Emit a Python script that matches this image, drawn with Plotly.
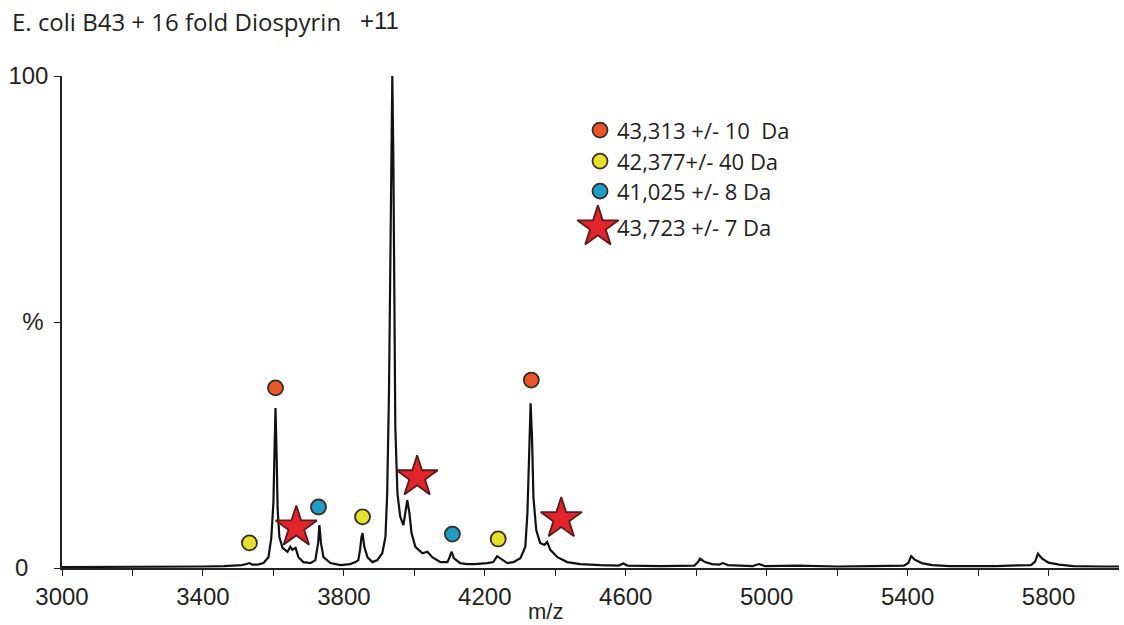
import plotly.graph_objects as go

# ---------------- data ----------------
mz = [3000, 3100, 3200, 3300, 3400, 3460, 3490, 3510, 3524, 3532, 3540, 3555, 3572, 3586,
      3594, 3600, 3603, 3606, 3609, 3612, 3617, 3626, 3640, 3648, 3654, 3657, 3663, 3671,
      3685, 3705, 3719, 3727, 3730.5, 3735, 3742, 3762, 3790, 3818, 3833, 3841, 3846, 3850,
      3853, 3858, 3867, 3881, 3895, 3909, 3918, 3923, 3928, 3932, 3935, 3937.5, 3940.5,
      3943.5, 3946, 3952, 3960, 3969, 3975, 3980, 3986, 3992, 4003, 4023, 4037, 4051, 4074,
      4094, 4100, 4106, 4112, 4130, 4150, 4170, 4207, 4224, 4235, 4250, 4264, 4281, 4301,
      4315, 4321, 4326, 4330, 4334, 4338, 4346, 4357, 4369, 4377, 4386, 4406, 4434, 4471,
      4528, 4580, 4593, 4605, 4700, 4795, 4805, 4811, 4825, 4845, 4865, 4876, 4890, 4960,
      4978, 4995, 5089, 5200, 5300, 5390, 5402, 5410, 5420, 5440, 5470, 5520, 5650, 5750,
      5762, 5770, 5782, 5800, 5830, 5870, 5950, 6000]
intensity = [0.2, 0.2, 0.25, 0.2, 0.3, 0.4, 0.5, 0.6, 0.8, 1.0, 0.7, 0.7, 1.0, 2.2,
             6.1, 13.2, 23.4, 32.5, 23.4, 12.0, 6.3, 4.1, 3.3, 4.3, 3.7, 3.9, 4.1, 2.2,
             1.2, 1.0, 1.6, 5.1, 8.7, 5.1, 2.2, 1.0, 0.6, 0.8, 1.2, 1.6, 3.7, 6.3,
             7.1, 4.3, 2.2, 1.2, 1.6, 3.0, 6.3, 15.2, 35.6, 62.6, 89.6, 100, 83,
             49, 28.7, 15.2, 10.4, 8.7, 11.8, 13.8, 11.2, 7.1, 4.3, 3.0, 3.3, 2.2, 1.2,
             1.2, 2.2, 3.3, 2.0, 1.0, 0.8, 0.8, 1.0, 1.2, 2.4, 1.6, 1.0, 1.2, 2.0,
             4.3, 11.2, 23.4, 33.5, 26.6, 14.4, 7.7, 5.1, 4.7, 5.3, 3.7, 2.2, 1.2, 0.8,
             0.6, 0.5, 0.9, 0.5, 0.4, 0.5, 1.2, 1.9, 1.2, 0.8, 0.7, 1.0, 0.6, 0.4,
             0.8, 0.4, 0.5, 0.3, 0.4, 0.5, 1.0, 2.4, 1.7, 1.0, 0.6, 0.4, 0.4, 0.6,
             1.3, 2.9, 1.9, 1.1, 0.7, 0.4, 0.3, 0.3]

# species annotations (marker positions)
orange_mz = [3606, 3929, 4332]
orange_y = [36.6, 104.1, 38.2]
yellow_mz = [3532, 3853, 4238]
yellow_y = [5.1, 10.4, 5.9]
blue_mz = [3728, 4108]
blue_y = [12.4, 6.9]
star_mz = [3665, 4008, 4417]
star_y = [8.3, 18.5, 10.0]

legend_labels = ["43,313 +/- 10\u00a0 Da", "42,377+/- 40 Da", "41,025 +/- 8 Da", "43,723 +/- 7 Da"]

x_tickvals = [3000, 3400, 3800, 4200, 4600, 5000, 5400, 5800]
x_minor_tickvals = [3200, 3600, 4000, 4400, 4800, 5200, 5600]
y_tickvals = [0, 50, 100]
y_ticktext = ["0\u00a0\u00a0\u00a0", "%\u2009", "100"]

title_text = "E. coli B43 + 16 fold Diospyrin"
charge_text = "+11"
xaxis_title = "m/z"

# ---------------- styling ----------------
ORANGE = "#E8572B"
YELLOW = "#E4E12C"
BLUE = "#1F9CC6"
RED = "#E2252B"
EDGE = "#3a2a22"
STAR_EDGE = "#5a1a1a"
TXT = "#231f20"
SANS = "Liberation Sans, Arial, sans-serif"
HUM = "Open Sans, Noto Sans, sans-serif"

fig = go.Figure()

fig.add_trace(go.Scatter(x=mz, y=intensity, mode="lines",
                         line=dict(color="#111111", width=2.2), hoverinfo="skip",
                         showlegend=False))

def add_markers(xs, ys, color, symbol, size, lw=1.8, edge=EDGE):
    fig.add_trace(go.Scatter(x=xs, y=ys, mode="markers", cliponaxis=False,
                             marker=dict(color=color, symbol=symbol, size=size,
                                         line=dict(color=edge, width=lw)),
                             showlegend=False, hoverinfo="skip"))

add_markers(orange_mz, orange_y, ORANGE, "circle", 15)
add_markers(yellow_mz, yellow_y, YELLOW, "circle", 15)
add_markers(blue_mz, blue_y, BLUE, "circle", 15)
add_markers(star_mz, star_y, RED, "star", 31, edge=STAR_EDGE)

# manual legend (positions in data coordinates)
leg_x = 4527
leg_rows = [89.0, 82.7, 76.6, 69.3]
leg_colors = [ORANGE, YELLOW, BLUE, RED]
leg_symbols = ["circle", "circle", "circle", "star"]
leg_sizes = [15, 15, 15, 31]
for yv, c, s, sz in zip(leg_rows, leg_colors, leg_symbols, leg_sizes):
    add_markers([leg_x if s == "circle" else leg_x - 6], [yv], c, s, sz,
                edge=STAR_EDGE if s == "star" else EDGE)
for yv, lab in zip(leg_rows, legend_labels):
    fig.add_annotation(x=4570, y=yv, xref="x", yref="y", text=lab, showarrow=False,
                       xanchor="left", yanchor="middle",
                       font=dict(family=HUM, size=22, color=TXT))

fig.update_layout(
    width=1124, height=625,
    margin=dict(l=62, r=5, t=76, b=57),
    paper_bgcolor="white", plot_bgcolor="white",
    showlegend=False,
    xaxis=dict(range=[3000, 6000], tickvals=x_tickvals, ticks="outside", ticklen=6,
               tickwidth=1.3, tickcolor="#222", showline=True, linecolor="#222",
               linewidth=1.5, showgrid=False, zeroline=False,
               tickfont=dict(family=SANS, size=24, color=TXT), ticklabelstandoff=0,
               minor=dict(tickvals=x_minor_tickvals,
                          ticks="outside", ticklen=6, tickwidth=1.3, tickcolor="#222")),
    yaxis=dict(range=[0, 100], tickvals=y_tickvals, ticktext=y_ticktext, ticks="outside",
               ticklen=6, tickwidth=1.3, tickcolor="#222", showline=True, linecolor="#222",
               linewidth=1.5, showgrid=False, zeroline=False,
               tickfont=dict(family=SANS, size=24, color=TXT), ticklabelstandoff=1),
)

W, H = 1124 - 62 - 5, 625 - 76 - 57
def px_to_paper(px, py):
    return (px - 62) / W, (625 - 57 - py) / H

tx, ty = px_to_paper(10, 22)
fig.add_annotation(x=tx, y=ty, xref="paper", yref="paper", text=title_text,
                   showarrow=False, xanchor="left", yanchor="middle",
                   font=dict(family=HUM, size=24, color=TXT))
cx, cy = px_to_paper(358, 20)
fig.add_annotation(x=cx, y=cy, xref="paper", yref="paper", text=charge_text,
                   showarrow=False, xanchor="left", yanchor="middle",
                   font=dict(family=SANS, size=24, color=TXT))
mx, my = px_to_paper(545, 626)
fig.add_annotation(x=mx, y=my, xref="paper", yref="paper", text=xaxis_title,
                   showarrow=False, xanchor="center", yanchor="bottom",
                   font=dict(family=SANS, size=22, color=TXT))

fig.write_html("out.html")
